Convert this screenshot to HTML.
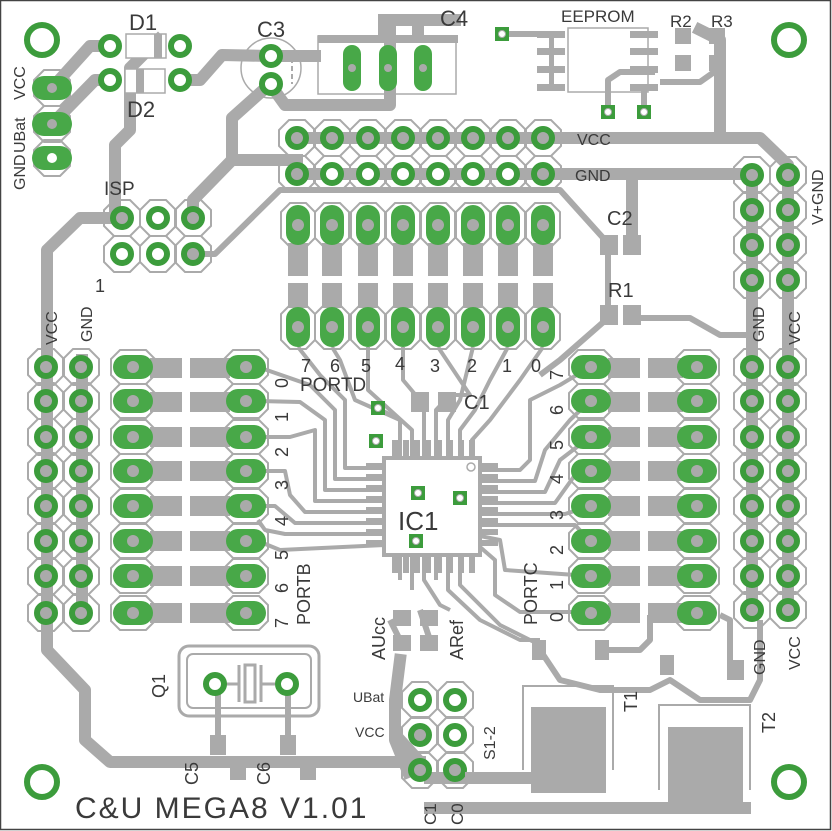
<!DOCTYPE html>
<html><head><meta charset="utf-8"><style>
html,body{margin:0;padding:0;background:#fff}
svg{display:block}
text{font-family:"Liberation Sans",sans-serif;fill:#3a3a3a}
</style></head><body>
<svg width="832" height="831" viewBox="0 0 832 831" xmlns="http://www.w3.org/2000/svg">
<defs>
<g id="ring"><circle r="9" fill="#fff" stroke="#3c9c3c" stroke-width="6"/></g>
<g id="ringg"><circle r="9" fill="#aaa" stroke="#3c9c3c" stroke-width="6"/><circle r="5" fill="#aaa"/></g>
<g id="oct"><polygon points="-8,-18 8,-18 18,-8 18,8 8,18 -8,18 -18,8 -18,-8" fill="none" stroke="#aaa" stroke-width="2"/></g>
<g id="obh"><polygon points="-13,-17 13,-17 22,-8 22,8 13,17 -13,17 -22,8 -22,-8" fill="none" stroke="#aaa" stroke-width="2"/><rect x="-20" y="-12" width="40" height="24" rx="12" fill="#48a848"/><circle r="6" fill="#aaa"/></g>
<g id="obv"><polygon points="-8,-22 8,-22 17,-13 17,13 8,22 -8,22 -17,13 -17,-13" fill="none" stroke="#aaa" stroke-width="2"/><rect x="-12" y="-20" width="24" height="40" rx="12" fill="#48a848"/><circle r="6" fill="#aaa"/></g>
<g id="hole"><circle r="15" fill="none" stroke="#3c9c3c" stroke-width="6"/></g>
<g id="via"><rect x="-7" y="-7" width="14" height="14" fill="#3c9c3c"/><circle r="3.5" fill="#fff" stroke="#aaa" stroke-width="1"/></g>
</defs>
<rect x="0.5" y="0.5" width="830" height="829" fill="#fff" stroke="#444" stroke-width="1.5"/>

<!-- main traces -->
<g stroke="#aaa" stroke-width="12" fill="none" stroke-linejoin="round" stroke-linecap="square">
<polyline points="297,138 720,138 760,138 788,165 788,612"/>
<polyline points="297,174 752,174 752,612"/>
<polyline points="632,174 632,240"/>
<polyline points="52,124 95,80 110,80"/>
<polyline points="52,88 90,46 110,46"/>
<polyline points="158,40 130,68 130,130 115,145 115,218"/>
<polyline points="180,80 200,80 222,55 270,56 315,56"/>
<polyline points="270,84 285,105 390,105 390,20 455,20"/>
<polyline points="270,84 232,118 232,160 193,200 193,218"/>
<polyline points="232,160 297,160"/>
<polyline points="122,218 80,218 47,250 47,612"/>
<polyline points="82,360 82,612"/>
<polyline points="47,612 47,650 85,690 85,740 110,762 420,762"/>
<polyline points="420,762 400,740"/>
<polyline points="408,772 395,740 395,700 400,660"/>
<polyline points="430,808 745,808"/>
<polyline points="430,778 540,778"/>
<polyline points="632,174 632,240"/>
<polyline points="720,138 720,40 700,30"/>
</g>
<g stroke="#aaa" stroke-width="6" fill="none" stroke-linejoin="round">
<polyline points="193,254 215,254 280,190 560,190 605,240"/>
<polyline points="608,245 608,318 560,360 540,375"/>
<polyline points="640,318 690,318 720,335 752,335"/>
<polyline points="502,34 560,34"/>
<polyline points="608,112 608,80 620,72 655,72"/>
<polyline points="644,112 644,90"/>
<polyline points="717,62 717,70 700,82 660,82"/>
<polyline points="540,650 560,680 600,690 650,690 670,680 700,700 750,700 760,680 760,620"/>
<polyline points="600,650 640,650 650,640 650,615"/>
<polyline points="720,615 730,620 730,680"/>
<polyline points="218,685 218,740"/>
<polyline points="288,685 288,740"/>
<polyline points="400,640 390,620"/>
<polyline points="430,640 420,610"/>
</g>

<!-- fanout thin traces -->
<g stroke="#aaa" stroke-width="4" fill="none" stroke-linejoin="round">
<polyline points="385,468 345,468 345,400 320,375 298,347"/>
<polyline points="385,479 335,479 335,410 310,385 258,367"/>
<polyline points="385,490 325,490 325,420 300,402 258,401"/>
<polyline points="385,501 315,501 315,430 290,437 258,437"/>
<polyline points="385,512 305,512 290,495 285,471 258,471"/>
<polyline points="385,523 295,523 275,506 258,506"/>
<polyline points="385,534 285,534 265,530 258,520"/>
<polyline points="385,545 280,550 258,541"/>
<polyline points="400,460 400,420 355,400 340,360 332,347"/>
<polyline points="412,460 412,430 368,390 368,347"/>
<polyline points="424,460 424,405 403,380 403,347"/>
<polyline points="436,460 436,410 450,395 470,395 438,347"/>
<polyline points="448,460 448,420 460,400 473,347"/>
<polyline points="460,460 460,430 475,410 490,380 508,347"/>
<polyline points="472,460 472,440 490,420 520,380 543,347"/>
<polyline points="480,470 520,470 530,460 530,400 560,385 590,367"/>
<polyline points="480,481 535,481 545,450 570,420 590,401"/>
<polyline points="480,492 545,492 560,460 590,437"/>
<polyline points="480,503 555,503 575,475 590,471"/>
<polyline points="480,514 565,514 590,506"/>
<polyline points="480,525 575,525 590,541"/>
<polyline points="480,536 500,540 505,570 590,576"/>
<polyline points="480,547 495,560 495,595 520,612 590,612"/>
<polyline points="400,555 400,580"/>
<polyline points="412,555 412,590"/>
<polyline points="424,555 424,580 440,605 450,610"/>
<polyline points="436,555 436,580"/>
<polyline points="448,555 448,590 480,620 520,640 540,640"/>
<polyline points="460,555 460,585 500,625 540,645"/>
<polyline points="415,490 415,470 423,460"/>
<polyline points="460,500 460,530 452,540 452,555"/>
<polyline points="378,408 400,420 400,445"/>
</g>

<!-- IC1 -->
<g fill="#aaa">
<rect x="384" y="458" width="96" height="97" fill="#fff" stroke="#aaa" stroke-width="4"/>
<rect x="366" y="463" width="18" height="6"/><rect x="366" y="474" width="18" height="6"/><rect x="366" y="485" width="18" height="6"/><rect x="366" y="496" width="18" height="6"/><rect x="366" y="507" width="18" height="6"/><rect x="366" y="518" width="18" height="6"/><rect x="366" y="529" width="18" height="6"/><rect x="366" y="540" width="18" height="6"/>
<rect x="480" y="463" width="18" height="6"/><rect x="480" y="474" width="18" height="6"/><rect x="480" y="485" width="18" height="6"/><rect x="480" y="496" width="18" height="6"/><rect x="480" y="507" width="18" height="6"/><rect x="480" y="518" width="18" height="6"/><rect x="480" y="529" width="18" height="6"/><rect x="480" y="540" width="18" height="6"/>
<rect x="392" y="440" width="6" height="18"/><rect x="403" y="440" width="6" height="18"/><rect x="414" y="440" width="6" height="18"/><rect x="425" y="440" width="6" height="18"/><rect x="436" y="440" width="6" height="18"/><rect x="447" y="440" width="6" height="18"/><rect x="458" y="440" width="6" height="18"/><rect x="469" y="440" width="6" height="18"/>
<rect x="392" y="555" width="6" height="18"/><rect x="403" y="555" width="6" height="18"/><rect x="414" y="555" width="6" height="18"/><rect x="425" y="555" width="6" height="18"/><rect x="436" y="555" width="6" height="18"/><rect x="447" y="555" width="6" height="18"/><rect x="458" y="555" width="6" height="18"/><rect x="469" y="555" width="6" height="18"/>
<rect x="411" y="392" width="18" height="20"/><rect x="438" y="392" width="18" height="20"/>
<rect x="393" y="610" width="18" height="16"/><rect x="420" y="610" width="18" height="16"/>
<rect x="393" y="635" width="18" height="16"/><rect x="420" y="635" width="18" height="16"/>
<rect x="532" y="640" width="14" height="20"/><rect x="595" y="640" width="14" height="20"/>
<rect x="660" y="655" width="14" height="20"/><rect x="730" y="660" width="14" height="20"/>
<rect x="600" y="235" width="18" height="20"/><rect x="623" y="235" width="18" height="20"/>
<rect x="600" y="305" width="18" height="20"/><rect x="623" y="305" width="18" height="20"/>
<rect x="210" y="735" width="16" height="20"/><rect x="280" y="735" width="16" height="20"/>
<rect x="230" y="760" width="16" height="20"/><rect x="300" y="760" width="16" height="20"/>
</g>
<circle cx="471" cy="467" r="4" fill="none" stroke="#aaa" stroke-width="1.5"/>
<use href="#via" x="378" y="408"/><use href="#via" x="376" y="441"/>
<use href="#via" x="418" y="493"/><use href="#via" x="460" y="498"/><use href="#via" x="416" y="541"/>
<use href="#via" x="502" y="34"/><use href="#via" x="608" y="112"/><use href="#via" x="644" y="112"/>

<!-- EEPROM -->
<g fill="#aaa">
<rect x="537" y="31" width="28" height="7"/><rect x="537" y="48" width="28" height="7"/><rect x="537" y="66" width="28" height="7"/><rect x="537" y="84" width="28" height="7"/>
<rect x="630" y="31" width="28" height="7"/><rect x="630" y="48" width="28" height="7"/><rect x="630" y="66" width="28" height="7"/><rect x="630" y="84" width="28" height="7"/>
<rect x="675" y="28" width="16" height="16"/><rect x="675" y="55" width="16" height="16"/>
<rect x="709" y="28" width="16" height="16"/><rect x="709" y="55" width="16" height="16"/>
<rect x="549" y="31" width="5" height="60"/>
</g>
<rect x="568" y="28" width="80" height="64" fill="none" stroke="#aaa" stroke-width="1.5"/>

<!-- C4 -->
<rect x="318" y="35" width="140" height="8" fill="#aaa"/>
<rect x="318" y="36" width="138" height="58" fill="none" stroke="#aaa" stroke-width="1.5"/>
<rect x="378" y="14" width="12" height="22" fill="#aaa"/><rect x="412" y="14" width="12" height="22" fill="#aaa"/>
<rect x="343" y="45" width="18" height="46" rx="9" fill="#48a848"/><rect x="379" y="45" width="18" height="46" rx="9" fill="#48a848"/><rect x="414" y="45" width="18" height="46" rx="9" fill="#48a848"/>
<circle cx="352" cy="68" r="4" fill="#aaa"/><circle cx="388" cy="68" r="4" fill="#aaa"/><circle cx="423" cy="68" r="4" fill="#aaa"/>

<!-- C3 -->
<circle cx="271" cy="68" r="30" fill="none" stroke="#aaa" stroke-width="1.5"/>
<line x1="292" y1="58" x2="292" y2="84" stroke="#aaa" stroke-width="2" stroke-dasharray="5,3"/>
<use href="#ring" x="271" y="56"/><use href="#ring" x="271" y="84"/>

<!-- D1 D2 -->
<rect x="126" y="34" width="40" height="24" fill="#fff" stroke="#aaa" stroke-width="1.5"/><rect x="154" y="34" width="8" height="24" fill="#aaa"/>
<rect x="125" y="69" width="40" height="24" fill="#fff" stroke="#aaa" stroke-width="1.5"/><rect x="136" y="69" width="8" height="24" fill="#aaa"/>
<use href="#ring" x="110" y="46"/><use href="#ring" x="180" y="46"/><use href="#ring" x="110" y="80"/><use href="#ring" x="180" y="80"/>

<!-- mounting holes -->
<use href="#hole" x="42" y="40"/><use href="#hole" x="789" y="40"/><use href="#hole" x="42" y="782"/><use href="#hole" x="789" y="782"/>

<!-- left 3 pin -->
<g><use href="#oct" x="52" y="88"/><use href="#oct" x="52" y="124"/><use href="#oct" x="52" y="158"/>
<rect x="32" y="76" width="40" height="24" rx="12" fill="#48a848"/><rect x="32" y="112" width="40" height="24" rx="12" fill="#48a848"/><rect x="32" y="146" width="40" height="24" rx="12" fill="#48a848"/>
<circle cx="52" cy="88" r="5" fill="#aaa"/><circle cx="52" cy="124" r="5" fill="#aaa"/><circle cx="52" cy="158" r="5" fill="#fff"/></g>

<!-- ISP -->
<g>
<use href="#oct" x="122" y="218"/><use href="#oct" x="158" y="218"/><use href="#oct" x="193" y="218"/>
<use href="#oct" x="122" y="254"/><use href="#oct" x="158" y="254"/><use href="#oct" x="193" y="254"/>
<use href="#ringg" x="122" y="218"/><use href="#ring" x="158" y="218"/><use href="#ringg" x="193" y="218"/>
<use href="#ring" x="122" y="254"/><use href="#ring" x="158" y="254"/><use href="#ringg" x="193" y="254"/>
</g>

<!-- top header 2x8 -->
<g>
<use href="#oct" x="297" y="138"/><use href="#oct" x="332" y="138"/><use href="#oct" x="368" y="138"/><use href="#oct" x="403" y="138"/><use href="#oct" x="438" y="138"/><use href="#oct" x="473" y="138"/><use href="#oct" x="508" y="138"/><use href="#oct" x="543" y="138"/>
<use href="#oct" x="297" y="174"/><use href="#oct" x="332" y="174"/><use href="#oct" x="368" y="174"/><use href="#oct" x="403" y="174"/><use href="#oct" x="438" y="174"/><use href="#oct" x="473" y="174"/><use href="#oct" x="508" y="174"/><use href="#oct" x="543" y="174"/>
<use href="#ringg" x="297" y="138"/><use href="#ringg" x="332" y="138"/><use href="#ringg" x="368" y="138"/><use href="#ringg" x="403" y="138"/><use href="#ringg" x="438" y="138"/><use href="#ringg" x="473" y="138"/><use href="#ringg" x="508" y="138"/><use href="#ringg" x="543" y="138"/>
<use href="#ringg" x="297" y="174"/><use href="#ring" x="332" y="174"/><use href="#ring" x="368" y="174"/><use href="#ring" x="403" y="174"/><use href="#ring" x="438" y="174"/><use href="#ring" x="473" y="174"/><use href="#ring" x="508" y="174"/><use href="#ringg" x="543" y="174"/>
</g>

<!-- PORTD jumpers -->
<g fill="#aaa">
<rect x="288" y="243" width="20" height="33"/><rect x="288" y="283" width="20" height="25"/>
<rect x="322" y="243" width="20" height="33"/><rect x="322" y="283" width="20" height="25"/>
<rect x="358" y="243" width="20" height="33"/><rect x="358" y="283" width="20" height="25"/>
<rect x="393" y="243" width="20" height="33"/><rect x="393" y="283" width="20" height="25"/>
<rect x="428" y="243" width="20" height="33"/><rect x="428" y="283" width="20" height="25"/>
<rect x="463" y="243" width="20" height="33"/><rect x="463" y="283" width="20" height="25"/>
<rect x="498" y="243" width="20" height="33"/><rect x="498" y="283" width="20" height="25"/>
<rect x="533" y="243" width="20" height="33"/><rect x="533" y="283" width="20" height="25"/>
</g>
<g>
<use href="#obv" x="298" y="225"/><use href="#obv" x="332" y="225"/><use href="#obv" x="368" y="225"/><use href="#obv" x="403" y="225"/><use href="#obv" x="438" y="225"/><use href="#obv" x="473" y="225"/><use href="#obv" x="508" y="225"/><use href="#obv" x="543" y="225"/>
<use href="#obv" x="298" y="327"/><use href="#obv" x="332" y="327"/><use href="#obv" x="368" y="327"/><use href="#obv" x="403" y="327"/><use href="#obv" x="438" y="327"/><use href="#obv" x="473" y="327"/><use href="#obv" x="508" y="327"/><use href="#obv" x="543" y="327"/>
</g>

<!-- PORTB / PORTC jumpers -->
<g fill="#aaa">
<rect x="150" y="358" width="32" height="20"/><rect x="190" y="358" width="40" height="20"/>
<rect x="150" y="392" width="32" height="20"/><rect x="190" y="392" width="40" height="20"/>
<rect x="150" y="427" width="32" height="20"/><rect x="190" y="427" width="40" height="20"/>
<rect x="150" y="461" width="32" height="20"/><rect x="190" y="461" width="40" height="20"/>
<rect x="150" y="496" width="32" height="20"/><rect x="190" y="496" width="40" height="20"/>
<rect x="150" y="531" width="32" height="20"/><rect x="190" y="531" width="40" height="20"/>
<rect x="150" y="566" width="32" height="20"/><rect x="190" y="566" width="40" height="20"/>
<rect x="150" y="603" width="32" height="20"/><rect x="190" y="603" width="40" height="20"/>
<rect x="608" y="358" width="32" height="20"/><rect x="648" y="358" width="35" height="20"/>
<rect x="608" y="392" width="32" height="20"/><rect x="648" y="392" width="35" height="20"/>
<rect x="608" y="427" width="32" height="20"/><rect x="648" y="427" width="35" height="20"/>
<rect x="608" y="461" width="32" height="20"/><rect x="648" y="461" width="35" height="20"/>
<rect x="608" y="496" width="32" height="20"/><rect x="648" y="496" width="35" height="20"/>
<rect x="608" y="531" width="32" height="20"/><rect x="648" y="531" width="35" height="20"/>
<rect x="608" y="566" width="32" height="20"/><rect x="648" y="566" width="35" height="20"/>
<rect x="608" y="603" width="32" height="20"/><rect x="648" y="603" width="35" height="20"/>
</g>
<g>
<use href="#obh" x="133" y="367"/><use href="#obh" x="133" y="401"/><use href="#obh" x="133" y="437"/><use href="#obh" x="133" y="471"/><use href="#obh" x="133" y="506"/><use href="#obh" x="133" y="541"/><use href="#obh" x="133" y="576"/><use href="#obh" x="133" y="613"/>
<use href="#obh" x="246" y="367"/><use href="#obh" x="246" y="401"/><use href="#obh" x="246" y="437"/><use href="#obh" x="246" y="471"/><use href="#obh" x="246" y="506"/><use href="#obh" x="246" y="541"/><use href="#obh" x="246" y="576"/><use href="#obh" x="246" y="613"/>
<use href="#obh" x="591" y="367"/><use href="#obh" x="591" y="401"/><use href="#obh" x="591" y="437"/><use href="#obh" x="591" y="471"/><use href="#obh" x="591" y="506"/><use href="#obh" x="591" y="541"/><use href="#obh" x="591" y="576"/><use href="#obh" x="591" y="613"/>
<use href="#obh" x="697" y="367"/><use href="#obh" x="697" y="401"/><use href="#obh" x="697" y="437"/><use href="#obh" x="697" y="471"/><use href="#obh" x="697" y="506"/><use href="#obh" x="697" y="541"/><use href="#obh" x="697" y="576"/><use href="#obh" x="697" y="613"/>
</g>

<!-- side headers -->
<g>
<use href="#oct" x="46" y="367"/><use href="#oct" x="46" y="401"/><use href="#oct" x="46" y="437"/><use href="#oct" x="46" y="471"/><use href="#oct" x="46" y="506"/><use href="#oct" x="46" y="541"/><use href="#oct" x="46" y="576"/><use href="#oct" x="46" y="613"/>
<use href="#oct" x="81" y="367"/><use href="#oct" x="81" y="401"/><use href="#oct" x="81" y="437"/><use href="#oct" x="81" y="471"/><use href="#oct" x="81" y="506"/><use href="#oct" x="81" y="541"/><use href="#oct" x="81" y="576"/><use href="#oct" x="81" y="613"/>
<use href="#ringg" x="46" y="367"/><use href="#ringg" x="46" y="401"/><use href="#ringg" x="46" y="437"/><use href="#ringg" x="46" y="471"/><use href="#ringg" x="46" y="506"/><use href="#ringg" x="46" y="541"/><use href="#ringg" x="46" y="576"/><use href="#ringg" x="46" y="613"/>
<use href="#ringg" x="81" y="367"/><use href="#ringg" x="81" y="401"/><use href="#ringg" x="81" y="437"/><use href="#ringg" x="81" y="471"/><use href="#ringg" x="81" y="506"/><use href="#ringg" x="81" y="541"/><use href="#ringg" x="81" y="576"/><use href="#ringg" x="81" y="613"/>
<use href="#oct" x="752" y="367"/><use href="#oct" x="752" y="401"/><use href="#oct" x="752" y="437"/><use href="#oct" x="752" y="471"/><use href="#oct" x="752" y="506"/><use href="#oct" x="752" y="541"/><use href="#oct" x="752" y="576"/><use href="#oct" x="752" y="610"/>
<use href="#oct" x="788" y="367"/><use href="#oct" x="788" y="401"/><use href="#oct" x="788" y="437"/><use href="#oct" x="788" y="471"/><use href="#oct" x="788" y="506"/><use href="#oct" x="788" y="541"/><use href="#oct" x="788" y="576"/><use href="#oct" x="788" y="610"/>
<use href="#ringg" x="752" y="367"/><use href="#ringg" x="752" y="401"/><use href="#ringg" x="752" y="437"/><use href="#ringg" x="752" y="471"/><use href="#ringg" x="752" y="506"/><use href="#ringg" x="752" y="541"/><use href="#ringg" x="752" y="576"/><use href="#ringg" x="752" y="610"/>
<use href="#ringg" x="788" y="367"/><use href="#ringg" x="788" y="401"/><use href="#ringg" x="788" y="437"/><use href="#ringg" x="788" y="471"/><use href="#ringg" x="788" y="506"/><use href="#ringg" x="788" y="541"/><use href="#ringg" x="788" y="576"/><use href="#ringg" x="788" y="610"/>
<use href="#oct" x="752" y="175"/><use href="#oct" x="752" y="210"/><use href="#oct" x="752" y="245"/><use href="#oct" x="752" y="280"/>
<use href="#oct" x="788" y="175"/><use href="#oct" x="788" y="210"/><use href="#oct" x="788" y="245"/><use href="#oct" x="788" y="280"/>
<use href="#ringg" x="752" y="175"/><use href="#ringg" x="752" y="210"/><use href="#ringg" x="752" y="245"/><use href="#ringg" x="752" y="280"/>
<use href="#ringg" x="788" y="175"/><use href="#ringg" x="788" y="210"/><use href="#ringg" x="788" y="245"/><use href="#ringg" x="788" y="280"/>
</g>

<!-- S1-2 header -->
<g>
<use href="#oct" x="420" y="700"/><use href="#oct" x="455" y="700"/><use href="#oct" x="420" y="735"/><use href="#oct" x="455" y="735"/><use href="#oct" x="420" y="770"/><use href="#oct" x="455" y="770"/>
<use href="#ring" x="420" y="700"/><use href="#ring" x="455" y="700"/><use href="#ringg" x="420" y="735"/><use href="#ring" x="455" y="735"/><use href="#ringg" x="420" y="770"/><use href="#ringg" x="455" y="770"/>
</g>
<line x1="465" y1="778" x2="530" y2="778" stroke="#aaa" stroke-width="12"/>

<!-- Q1 crystal -->
<rect x="179" y="646" width="140" height="70" rx="10" fill="none" stroke="#aaa" stroke-width="3"/>
<rect x="187" y="654" width="124" height="54" rx="6" fill="none" stroke="#aaa" stroke-width="2"/>
<g stroke="#aaa" stroke-width="3" fill="none"><line x1="225" y1="684" x2="238" y2="684"/><line x1="262" y1="684" x2="275" y2="684"/><line x1="239" y1="665" x2="239" y2="702"/><line x1="261" y1="665" x2="261" y2="702"/><rect x="245" y="665" width="10" height="37"/></g>
<use href="#ring" x="215" y="684"/><use href="#ring" x="287" y="684"/>

<!-- T1 T2 -->
<polyline points="523,770 523,686 613,686 613,770" fill="none" stroke="#aaa" stroke-width="2"/>
<rect x="531" y="707" width="75" height="86" fill="#aaa"/>
<polyline points="659,790 659,705 750,705 750,790" fill="none" stroke="#aaa" stroke-width="2"/>
<rect x="668" y="727" width="75" height="86" fill="#aaa"/>

<!-- texts -->
<g font-size="20">
<text x="129" y="30" font-size="22">D1</text>
<text x="127" y="117" font-size="22">D2</text>
<text x="257" y="37" font-size="22">C3</text>
<text x="440" y="26" font-size="22">C4</text>
<text x="561" y="22" font-size="17">EEPROM</text>
<text x="670" y="27" font-size="17">R2</text>
<text x="711" y="27" font-size="17">R3</text>
<text x="104" y="195" font-size="19">ISP</text>
<text x="95" y="292" font-size="18">1</text>
<text x="577" y="145" font-size="16">VCC</text>
<text x="575" y="181" font-size="16">GND</text>
<text x="607" y="225" font-size="20">C2</text>
<text x="608" y="297" font-size="20">R1</text>
<text x="300" y="391" font-size="19">PORTD</text>
<text x="464" y="409" font-size="20">C1</text>
<text x="398" y="530" font-size="26">IC1</text>
<text x="353" y="702" font-size="14">UBat</text>
<text x="355" y="737" font-size="14">VCC</text>
<text x="75" y="818" font-size="30" font-family="Liberation Mono" letter-spacing="2">C&amp;U MEGA8 V1.01</text>
<g font-size="18">
<text x="301" y="372">7</text><text x="330" y="372">6</text><text x="361" y="372">5</text><text x="395" y="370">4</text><text x="430" y="372">3</text><text x="467" y="372">2</text><text x="502" y="372">1</text><text x="531" y="372">0</text>
</g>
</g>
<g font-size="18">
<text transform="translate(288,388) rotate(-90)">0</text>
<text transform="translate(288,422) rotate(-90)">1</text>
<text transform="translate(288,457) rotate(-90)">2</text>
<text transform="translate(288,490) rotate(-90)">3</text>
<text transform="translate(288,526) rotate(-90)">4</text>
<text transform="translate(288,560) rotate(-90)">5</text>
<text transform="translate(288,593) rotate(-90)">6</text>
<text transform="translate(288,628) rotate(-90)">7</text>
<text transform="translate(310,625) rotate(-90)">PORTB</text>
<text transform="translate(563,380) rotate(-90)">7</text>
<text transform="translate(563,415) rotate(-90)">6</text>
<text transform="translate(563,450) rotate(-90)">5</text>
<text transform="translate(563,484) rotate(-90)">4</text>
<text transform="translate(563,520) rotate(-90)">3</text>
<text transform="translate(563,555) rotate(-90)">2</text>
<text transform="translate(563,590) rotate(-90)">1</text>
<text transform="translate(563,622) rotate(-90)">0</text>
<text transform="translate(537,625) rotate(-90)">PORTC</text>
<text transform="translate(385,660) rotate(-90)">AUcc</text>
<text transform="translate(463,660) rotate(-90)">ARef</text>
<text transform="translate(495,760) rotate(-90)" font-size="16">S1-2</text>
<text transform="translate(436,825) rotate(-90)" font-size="17">C1</text>
<text transform="translate(463,825) rotate(-90)" font-size="17">C0</text>
<text transform="translate(198,785) rotate(-90)">C5</text>
<text transform="translate(270,785) rotate(-90)">C6</text>
<text transform="translate(165,698) rotate(-90)">Q1</text>
<text transform="translate(637,712) rotate(-90)">T1</text>
<text transform="translate(775,733) rotate(-90)">T2</text>
<text transform="translate(765,675) rotate(-90)" font-size="16">GND</text>
<text transform="translate(800,670) rotate(-90)" font-size="16">VCC</text>
<text transform="translate(764,342) rotate(-90)" font-size="16">GND</text>
<text transform="translate(800,345) rotate(-90)" font-size="16">VCC</text>
<text transform="translate(57,345) rotate(-90)" font-size="16">VCC</text>
<text transform="translate(92,342) rotate(-90)" font-size="16">GND</text>
<text transform="translate(823,225) rotate(-90)" font-size="16">V+GND</text>
<text transform="translate(25,190) rotate(-90)" font-size="16">GND</text>
<text transform="translate(25,153) rotate(-90)" font-size="16">UBat</text>
<text transform="translate(25,100) rotate(-90)" font-size="16">VCC</text>
</g>
</svg>
</body></html>
